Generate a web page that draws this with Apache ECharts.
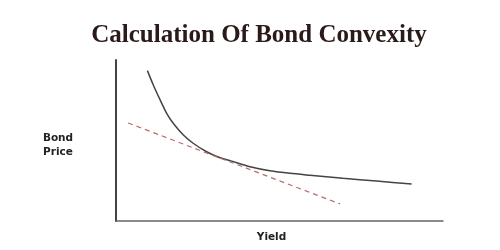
<!DOCTYPE html>
<html><head><meta charset="utf-8">
<script src="https://cdn.jsdelivr.net/npm/echarts@6/dist/echarts.min.js"></script>
<style>html,body{margin:0;padding:0;background:#fff}#c{width:500px;height:250px}</style>
</head><body><div id="c"></div>
<script>
const titleText = 'Calculation Of Bond Convexity';
const xName = 'Yield';
const yName = 'Bond\nPrice';
// price-yield curve (yield, price)
const curveYield = [0.96, 1.14, 1.35, 1.55, 1.75, 2.06, 2.36, 2.77, 3.18, 3.49, 4.10, 4.71, 5.32, 5.93, 6.94, 7.97, 9.04];
const curvePrice = [9.34, 8.45, 7.52, 6.69, 6.07, 5.34, 4.83, 4.30, 3.93, 3.75, 3.37, 3.12, 2.96, 2.84, 2.65, 2.48, 2.30];
// tangent (duration) line
const tangentYield = [0.37, 6.85];
const tangentPrice = [6.09, 1.06];

const chart = echarts.init(document.getElementById('c'), null, {renderer: 'canvas'});
chart.setOption({
  animation: false,
  backgroundColor: '#fff',
  graphic: [{
    type: 'text', x: 259, y: 23,
    style: {text: titleText, font: 'bold 25px "Liberation Serif", serif', fill: '#2b1a1a', textAlign: 'center', textVerticalAlign: 'top'}
  }, {
    type: 'text', x: 58, y: 145,
    style: {text: yName, font: 'bold 10.5px "DejaVu Sans", sans-serif', fill: '#222', textAlign: 'center', textVerticalAlign: 'middle', lineHeight: 14}
  }],
  grid: {left: 116, top: 60, width: 327, height: 161},
  xAxis: {
    type: 'value', min: 0, max: 10,
    name: xName, nameLocation: 'middle', nameGap: 11,
    nameTextStyle: {fontFamily: 'DejaVu Sans', fontWeight: 'bold', fontSize: 10.5, color: '#222', padding: [0, 16, 0, 0]},
    axisLine: {lineStyle: {color: '#666', width: 1.5}},
    axisTick: {show: false}, axisLabel: {show: false}, splitLine: {show: false}
  },
  yAxis: {
    type: 'value', min: 0, max: 10,
    axisLine: {show: true, lineStyle: {color: '#444', width: 2}},
    axisTick: {show: false}, axisLabel: {show: false}, splitLine: {show: false}
  },
  series: [{
    type: 'line', smooth: 0.25, symbol: 'none',
    data: curveYield.map((x, i) => [x, curvePrice[i]]),
    lineStyle: {color: '#444', width: 1.5}
  }, {
    type: 'line', symbol: 'none',
    data: tangentYield.map((x, i) => [x, tangentPrice[i]]),
    lineStyle: {color: '#b86a6a', width: 1.2, type: [5, 4]}
  }]
});
</script></body></html>
